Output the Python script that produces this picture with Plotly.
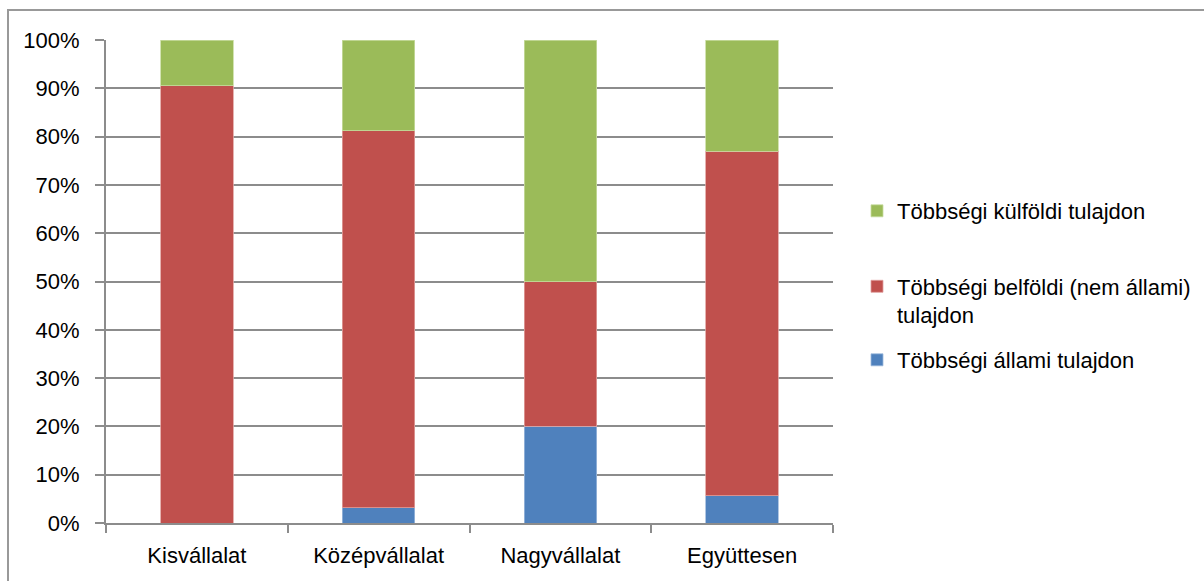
import plotly.graph_objects as go

categories = ["Kisvállalat", "Középvállalat", "Nagyvállalat", "Együttesen"]
allami = [0.0, 3.2, 20.0, 5.6]
belfoldi = [90.5, 78.0, 30.0, 71.4]
kulfoldi = [9.5, 18.8, 50.0, 23.0]

name_allami = "Többségi állami tulajdon"
name_belfoldi = "Többségi belföldi (nem állami)<br>tulajdon"
name_kulfoldi = "Többségi külföldi tulajdon"

FONT = "Liberation Sans Narrow, Arial Narrow, Liberation Sans, Arial, sans-serif"
GRID = "#8c8c8c"
W, H = 1204, 581
L, R, T, B = 106, 371, 40, 58

fig = go.Figure()
fig.add_trace(go.Bar(x=categories, y=allami, name=name_allami,
                     marker=dict(color="#4F81BD", line=dict(color="#9db9dc", width=0.8)),
                     legend="legend3"))
fig.add_trace(go.Bar(x=categories, y=belfoldi, name=name_belfoldi,
                     marker=dict(color="#C0504D", line=dict(color="#e0a09e", width=0.8)),
                     legend="legend2"))
fig.add_trace(go.Bar(x=categories, y=kulfoldi, name=name_kulfoldi,
                     marker=dict(color="#9BBB59", line=dict(color="#c8dca0", width=0.8)),
                     legend="legend"))

pw = W - L - R
ph = H - T - B


def lx(px):
    return (px - L) / pw


def ly(py):
    return (H - B - py) / ph


legend_common = dict(font=dict(family=FONT, size=22, color="#000000"),
                     bgcolor="rgba(0,0,0,0)", xanchor="left", yanchor="middle",
                     valign="top", itemwidth=30)

fig.update_layout(
    width=W, height=H,
    margin=dict(l=L, r=R, t=T, b=B, autoexpand=False),
    paper_bgcolor="white", plot_bgcolor="white",
    barmode="stack", bargap=0.6,
    font=dict(family=FONT, size=22, color="#000000"),
    showlegend=True,
    legend=dict(x=lx(857), y=ly(211), **legend_common),
    legend2=dict(x=lx(857), y=ly(301), **legend_common),
    legend3=dict(x=lx(857), y=ly(360), **legend_common),
    xaxis=dict(
        showline=True, linecolor=GRID, linewidth=2,
        ticks="outside", tickson="boundaries", ticklen=8, tickwidth=2, tickcolor=GRID,
        showgrid=False, tickfont=dict(family=FONT, size=22, color="#000000"),
        range=[-0.5, 3.5], ticklabelstandoff=12,
    ),
    yaxis=dict(
        range=[0, 100], dtick=10, ticksuffix="%",
        showline=True, linecolor=GRID, linewidth=2,
        ticks="outside", ticklen=9, tickwidth=2, tickcolor=GRID,
        showgrid=True, gridcolor=GRID, gridwidth=2,
        zeroline=False, ticklabelstandoff=11,
        tickfont=dict(family=FONT, size=22, color="#000000"),
    ),
    shapes=[dict(type="rect", xref="paper", yref="paper",
                 x0=(8 - L) / pw, x1=(1210 - L) / pw,
                 y0=(H - B - 590) / ph, y1=(H - B - 10) / ph,
                 line=dict(color="#999999", width=2), fillcolor="rgba(0,0,0,0)",
                 layer="below")],
)

fig.write_html("out.html")
